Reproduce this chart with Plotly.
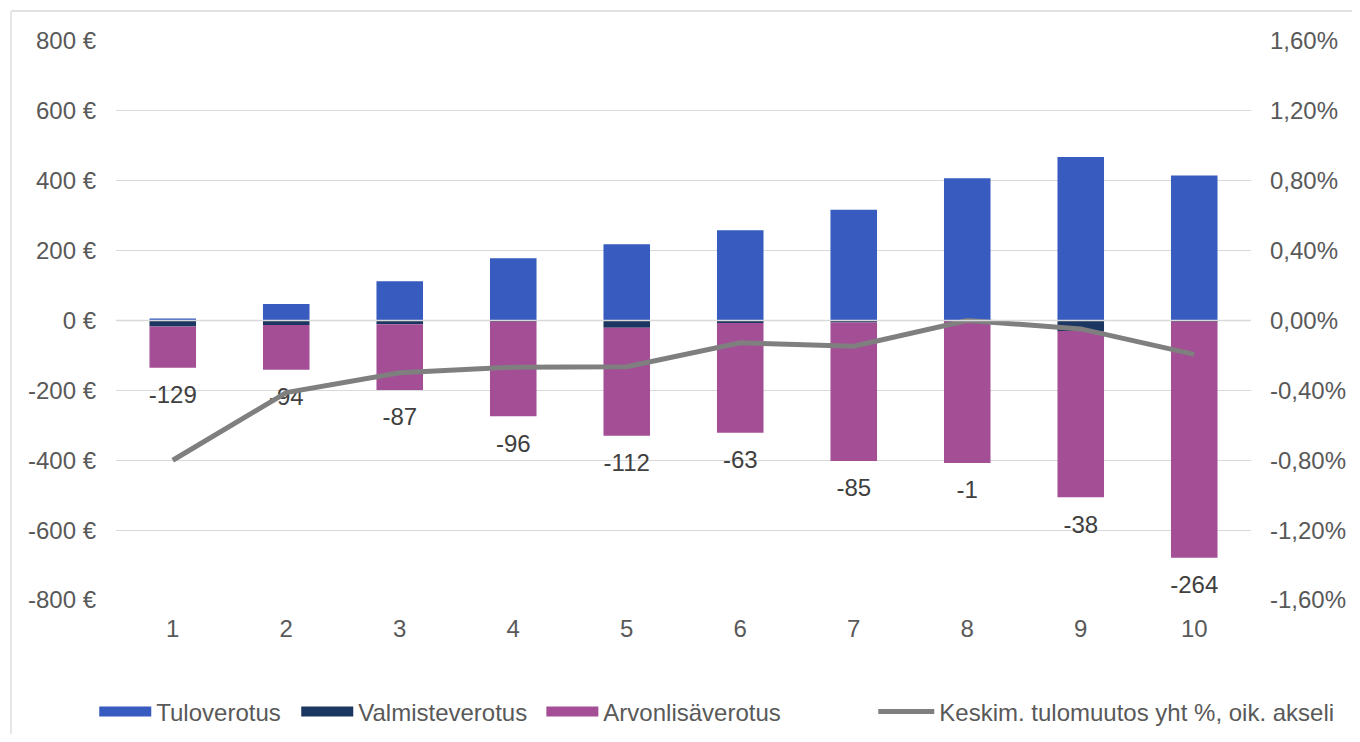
import plotly.graph_objects as go

deciles = [1, 2, 3, 4, 5, 6, 7, 8, 9, 10]
tuloverotus = [6, 47, 112, 178, 218, 258, 317, 407, 468, 415]
valmisteverotus = [-17, -13, -11, -3, -21, -7, -6, -2, -30, -3]
arvonlisaverotus = [-118, -128, -188, -271, -309, -314, -396, -406, -476, -676]
net_labels = [-129, -94, -87, -96, -112, -63, -85, -1, -38, -264]
tulomuutos_pct = [-0.80, -0.413, -0.299, -0.267, -0.265, -0.128, -0.147, 0.0, -0.048, -0.194]

left_ticks = [-800, -600, -400, -200, 0, 200, 400, 600, 800]
left_ticktext = [f"{v} €" for v in left_ticks]
right_ticks = [-0.016, -0.012, -0.008, -0.004, 0.0, 0.004, 0.008, 0.012, 0.016]
right_ticktext = [f"{v*100:.2f}".replace(".", ",") + "%" for v in right_ticks]

C_TULO = "#375BBF"
C_VALM = "#1B3660"
C_ALV = "#A44E96"
C_LINE = "#7F7F7F"
FONT = "Liberation Sans, Arial, sans-serif"
TXT = "#595959"
FS = 24

fig = go.Figure()
for name, vals, col in [("Tuloverotus", tuloverotus, C_TULO),
                        ("Valmisteverotus", valmisteverotus, C_VALM),
                        ("Arvonlisäverotus", arvonlisaverotus, C_ALV)]:
    fig.add_trace(go.Bar(x=deciles, y=vals, name=name, marker=dict(color=col, line=dict(width=0)),
                         showlegend=False))

# net labels below the stacks
bottoms = [v + a for v, a in zip(valmisteverotus, arvonlisaverotus)]
label_y = [b - 84 for b in bottoms]
fig.add_trace(go.Scatter(x=deciles, y=label_y, mode="text", text=[str(v) for v in net_labels],
                         textfont=dict(size=FS, color="#404040", family=FONT), showlegend=False,
                         hoverinfo="skip"))

fig.add_trace(go.Scatter(x=deciles, y=[p / 100 for p in tulomuutos_pct], mode="lines",
                         line=dict(color=C_LINE, width=5), yaxis="y2", showlegend=False,
                         name="Keskim. tulomuutos yht %, oik. akseli"))

# legend entries, one legend each for exact placement
legend_items = [("Tuloverotus", C_TULO, 13, "legend"),
                ("Valmisteverotus", C_VALM, 13, "legend2"),
                ("Arvonlisäverotus", C_ALV, 13, "legend3"),
                ("Keskim. tulomuutos yht %, oik. akseli", C_LINE, 5, "legend4")]
for name, col, w, lg in legend_items:
    fig.add_trace(go.Scatter(x=[None], y=[None], mode="lines", name=name,
                             line=dict(color=col, width=w), legend=lg))

def leg(x, iw):
    return dict(orientation="h", xref="container", yref="container", x=x, xanchor="left",
                y=0.0303, yanchor="middle", itemwidth=iw,
                font=dict(size=FS, color=TXT, family=FONT), bgcolor="rgba(0,0,0,0)")

fig.update_layout(
    template="none",
    width=1352, height=726,
    margin=dict(l=108, r=109, t=33, b=134, autoexpand=False),
    paper_bgcolor="white", plot_bgcolor="white",
    barmode="relative", bargap=0.59,
    font=dict(family=FONT, size=FS, color=TXT),
    xaxis=dict(range=[0.5, 10.5], tickmode="array", tickvals=deciles, ticktext=[str(d) for d in deciles],
               showgrid=False, zeroline=False, showline=False, ticks="", ticklabelstandoff=12,
               automargin=False, tickfont=dict(size=FS, color=TXT)),
    yaxis=dict(range=[-800, 800], tickmode="array", tickvals=left_ticks, ticktext=left_ticktext,
               showgrid=True, gridcolor="#D9D9D9", gridwidth=1.3, zeroline=False, showline=False,
               ticks="", ticklabelstandoff=19, automargin=False, tickfont=dict(size=FS, color=TXT)),
    yaxis2=dict(range=[-0.016, 0.016], overlaying="y", side="right", tickmode="array",
                tickvals=right_ticks, ticktext=right_ticktext, showgrid=False, zeroline=False,
                showline=False, ticks="", ticklabelstandoff=18, automargin=False,
                tickfont=dict(size=FS, color=TXT)),
    legend=leg(0.0638, 52),
    legend2=leg(0.2132, 52),
    legend3=leg(0.3945, 52),
    legend4=leg(0.6400, 56),
    shapes=[
        dict(type="line", xref="paper", yref="y", x0=0, x1=1, y0=0, y1=0,
             line=dict(color="#D9D9D9", width=1.5), layer="above"),
        # chart-area frame (only left and top edges fall inside the picture)
        dict(type="line", xref="paper", yref="paper", x0=-0.0925, x1=-0.0925, y0=-0.6, y1=1.0537,
             line=dict(color="#D9D9D9", width=1.3), layer="below"),
        dict(type="line", xref="paper", yref="paper", x0=-0.0925, x1=1.3, y0=1.0537, y1=1.0537,
             line=dict(color="#D9D9D9", width=1.3), layer="below"),
    ],
)

fig.write_html("out.html")
